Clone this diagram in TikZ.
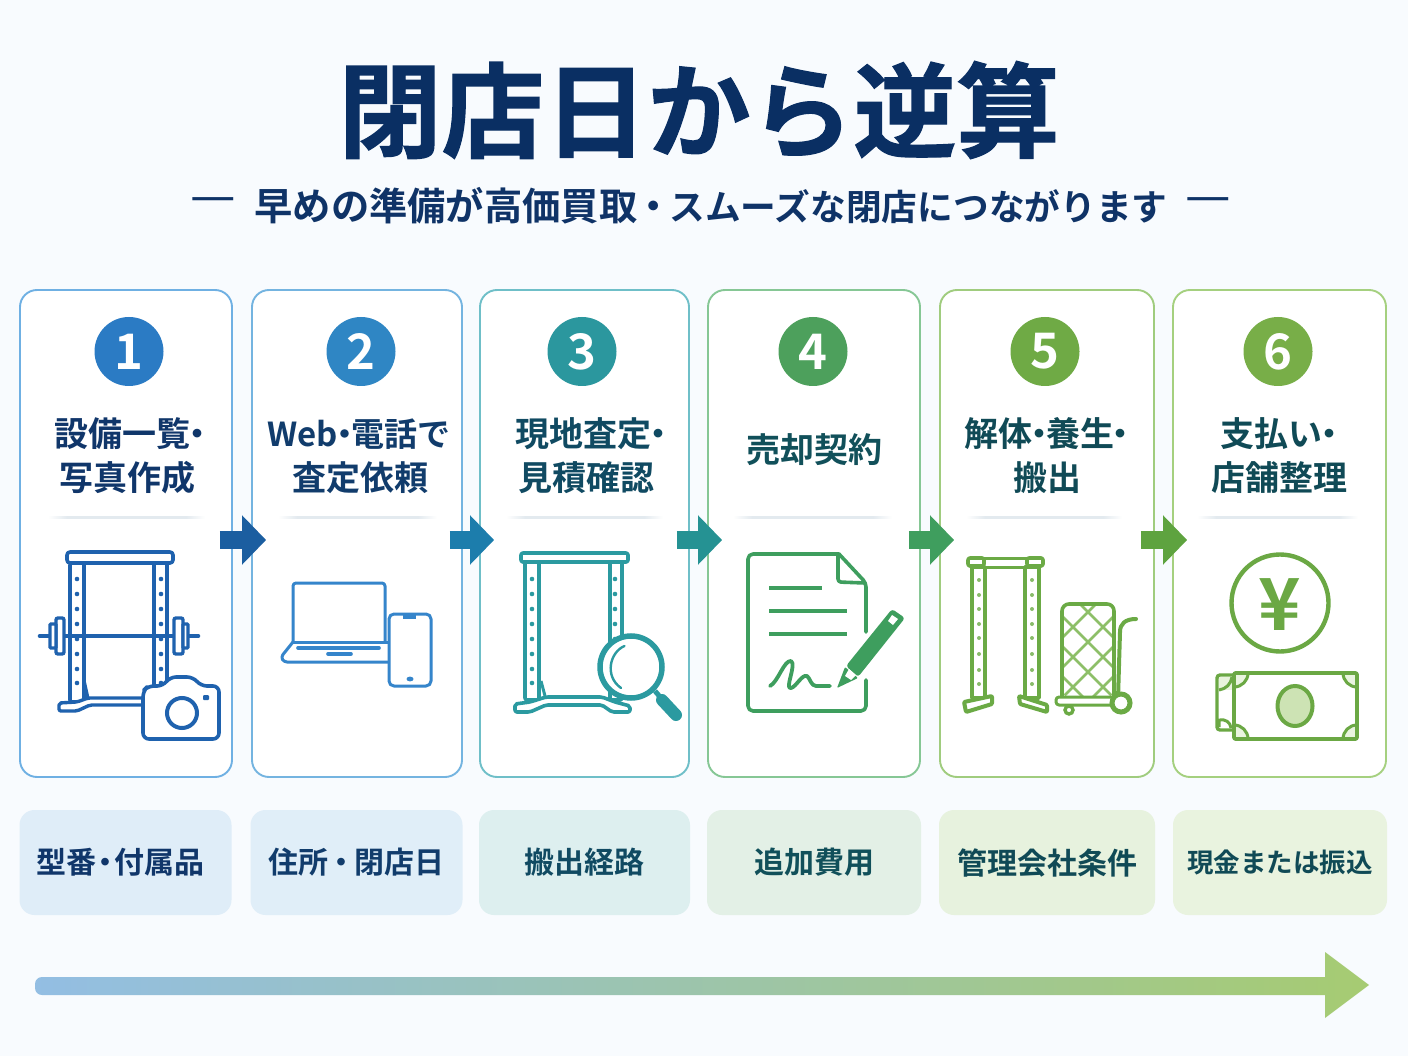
\documentclass[tikz,border=0pt]{standalone}
\usepackage{fontspec}
\usetikzlibrary{arrows.meta,calc}
\setmainfont{Noto Sans CJK JP}[BoldFont={* Bold},BoldFeatures={}]
\newfontfamily\jpheavy{Noto Sans CJK JP}[BoldFont={* Bold},BoldFeatures={FakeBold=1.2}]
\newcommand{\hexc}[1]{\definecolor{h#1}{HTML}{#1}}
\hexc{6FB0E3}\hexc{74B4E0}\hexc{6FBFC8}\hexc{86C795}\hexc{A0CC7E}\hexc{A5D07F}
\hexc{1B5EA0}\hexc{1C7DAC}\hexc{259293}\hexc{3F9E5E}\hexc{5EA33F}
\hexc{2B7BC4}\hexc{2F86C4}\hexc{2B979E}\hexc{4DA05C}\hexc{6FAA45}\hexc{78AE48}
\hexc{DFEDF8}\hexc{E0EEF8}\hexc{DDEFEF}\hexc{E3F0E6}\hexc{E7F2DE}\hexc{E9F3DF}
\hexc{93BEE3}\hexc{A6CB72}\hexc{E3EAEF}\hexc{8DBF68}\hexc{E8F3DC}\hexc{EAF4E0}\hexc{CDE3B4}
\definecolor{bgc}{HTML}{F8FBFE}
\definecolor{titlec}{HTML}{0A2F63}
\definecolor{subc}{HTML}{0F3367}
\definecolor{inkA}{HTML}{1F62AE}
\definecolor{inkB}{HTML}{3585CB}
\definecolor{inkC}{HTML}{2B9AA0}
\definecolor{inkD}{HTML}{3E9E5E}
\definecolor{inkE}{HTML}{6BAA45}
\definecolor{inkF}{HTML}{6BA844}
\definecolor{lblA}{HTML}{10366A}
\definecolor{lblB}{HTML}{113C6C}
\definecolor{lblC}{HTML}{104A62}
\definecolor{lblD}{HTML}{11505A}
\definecolor{lblE}{HTML}{104A56}
\definecolor{lblF}{HTML}{104A56}
\newcommand{\fs}[1]{\fontsize{#1}{#1}\selectfont}
\newcommand{\nd}{\hspace{-.3em}・\hspace{-.3em}}
\newcommand{\ndw}{\hspace{-.08em}・\hspace{-.08em}}
\newcommand{\ndm}{\hspace{-.2em}・\hspace{-.2em}}
\newcommand{\rackholes}[3]{\foreach \yy in {579,594,609,624,639,654,669,683}{\fill[#3] (#1,\yy) circle (2.3) (#2,\yy) circle (2.3);}}
\pgfdeclarehorizontalshading{dividerfade}{100bp}{color(0bp)=(white); color(25bp)=(white); color(31bp)=(hE3EAEF); color(69bp)=(hE3EAEF); color(75bp)=(white); color(100bp)=(white)}
\tikzset{
  card/.style={draw=#1,fill=white,line width=1.9pt,rounded corners=17pt,inner sep=0pt},
  badge/.style={circle,fill=#1,minimum size=69pt,inner sep=0pt,text=white,font=\bfseries\fs{49}},
  steplabel/.style={align=center,inner sep=0pt,font=\bfseries\fs{34},text=#1},
  pill/.style={fill=#1,rounded corners=15pt,inner sep=0pt,font=\bfseries\fs{30}},
  flow/.style={draw=#1,line width=18pt,-{Triangle[length=24pt,width=48pt]}},
  icon/.style={draw=#1,line width=3.6pt,line join=round,line cap=round},
  thin/.style={draw=#1,line width=3pt,line join=round,line cap=round},
}
\begin{document}
\begin{tikzpicture}[x=1pt,y=-1pt]
\fill[bgc] (0,0) rectangle (1408,1056);
\useasboundingbox (0,0) rectangle (1408,1056);

\node[inner sep=0pt,text=titlec,font=\jpheavy\bfseries\fs{103}] (title) at (699,110) {閉店日から逆算};
\node[inner sep=0pt,text=subc,font=\bfseries\fs{38.3}] (subtitle) at (711,206) {早めの準備が高価買取\ndw\fs{35.7}スムーズな閉店につながります};
\node[inner sep=0pt,text=subc,font=\fs{51}] (dashL) at (213,206) {—};
\node[inner sep=0pt,text=subc,font=\fs{51}] (dashR) at (1208,206) {—};

% cards
\node[card=h6FB0E3,minimum width=212pt,minimum height=487pt] (c1) at (126,533.5) {};
\node[card=h74B4E0,minimum width=210pt,minimum height=487pt] (c2) at (357,533.5) {};
\node[card=h6FBFC8,minimum width=209pt,minimum height=487pt] (c3) at (584.5,533.5) {};
\node[card=h86C795,minimum width=212pt,minimum height=487pt] (c4) at (814,533.5) {};
\node[card=hA0CC7E,minimum width=214pt,minimum height=487pt] (c5) at (1047,533.5) {};
\node[card=hA5D07F,minimum width=213pt,minimum height=487pt] (c6) at (1279.5,533.5) {};

% connectors
\draw[flow=h1B5EA0] ([xshift=-13pt,yshift=-6.5pt]c1.east) -- ([xshift=15pt,yshift=-6.5pt]c2.west);
\draw[flow=h1C7DAC] ([xshift=-13pt,yshift=-6.5pt]c2.east) -- ([xshift=15pt,yshift=-6.5pt]c3.west);
\draw[flow=h259293] ([xshift=-13pt,yshift=-6.5pt]c3.east) -- ([xshift=15pt,yshift=-6.5pt]c4.west);
\draw[flow=h3F9E5E] ([xshift=-12pt,yshift=-6.5pt]c4.east) -- ([xshift=15pt,yshift=-6.5pt]c5.west);
\draw[flow=h5EA33F] ([xshift=-14pt,yshift=-6.5pt]c5.east) -- ([xshift=15pt,yshift=-6.5pt]c6.west);

% badges
\node[badge=h2B7BC4] (b1) at (129,351.5) {1};
\node[badge=h2F86C4] (b2) at (361,351.5) {2};
\node[badge=h2B979E] (b3) at (582,351.5) {3};
\node[badge=h4DA05C] (b4) at (813,351.5) {4};
\node[badge=h6FAA45] (b5) at (1045,351.5) {5};
\node[badge=h78AE48] (b6) at (1278,351.5) {6};

% labels
\node[steplabel=lblA] (t1a) at (129,434) {設備一覧\nd};
\node[steplabel=lblA] (t1b) at (127,478) {写真作成};
\node[steplabel=lblB,font=\bfseries\fs{33}] (t2a) at (359,434) {Web\nd 電話で};
\node[steplabel=lblB] (t2b) at (360,478) {査定依頼};
\node[steplabel=lblC] (t3a) at (590,434) {現地査定\nd};
\node[steplabel=lblC] (t3b) at (586,478) {見積確認};
\node[steplabel=lblD] (t4a) at (814,450) {売却契約};
\node[steplabel=lblE] (t5a) at (1046,434) {解体\nd 養生\nd};
\node[steplabel=lblE] (t5b) at (1047,478) {搬出};
\node[steplabel=lblF] (t6a) at (1278,434) {支払い\nd};
\node[steplabel=lblF] (t6b) at (1279,478) {店舗整理};

% dividers
\foreach \a/\b in {48/205,278/437,506/663,733/892,966/1122,1197/1358}{
  \shade[shading=dividerfade] (\a,516) rectangle (\b,518);
}

% pills
\node[pill=hDFEDF8,minimum width=212pt,minimum height=105pt,text=lblA] (p1) at (125.5,862.5) {\hspace{-10pt}型番\ndm 付属品};
\node[pill=hE0EEF8,minimum width=212pt,minimum height=105pt,text=lblB] (p2) at (356.5,862.5) {住所\ndw 閉店日};
\node[pill=hDDEFEF,minimum width=211pt,minimum height=105pt,text=lblC] (p3) at (584.5,862.5) {搬出経路};
\node[pill=hE3F0E6,minimum width=214pt,minimum height=105pt,text=lblD] (p4) at (814,862.5) {追加費用};
\node[pill=hE7F2DE,minimum width=216pt,minimum height=105pt,text=lblE] (p5) at (1047,862.5) {管理会社条件};
\node[pill=hE9F3DF,minimum width=214pt,minimum height=105pt,text=lblF,font=\bfseries\fs{26.5}] (p6) at (1280,862.5) {現金または振込};

% timeline arrow
\shade[left color=h93BEE3,right color=hA6CB72,rounded corners=7pt]
  (200,977) [sharp corners] -- (1325,977) -- (1325,952) -- (1369,985) -- (1325,1018) -- (1325,995) -- (200,995)
  [rounded corners=7pt] -- (35,995) -- (35,977) -- cycle;

%%% icon 1: rack + camera
\draw[icon=inkA,rounded corners=2pt] (70,563) rectangle (84,702);
\draw[icon=inkA,rounded corners=2pt] (154,563) rectangle (167,690);
\draw[icon=inkA,fill=white,rounded corners=3pt] (67,552) rectangle (173,563);
\draw[icon=inkA] (85,563) -- (153,563);
\rackholes{77}{161}{inkA}
\draw[inkA,line width=4.6pt,line cap=round] (40,636) -- (198,636);
\draw[inkA,line width=3.4pt,fill=white,rounded corners=2pt] (56,618) rectangle (64,654);
\draw[inkA,line width=3.4pt,fill=white,rounded corners=1pt] (50,624) rectangle (56,648);
\draw[inkA,line width=3.4pt,fill=white,rounded corners=2pt] (174,618) rectangle (183,654);
\draw[inkA,line width=3.4pt,fill=white,rounded corners=1pt] (183,624) rectangle (188,648);
\draw[icon=inkA,line width=3.4pt,fill=white,rounded corners=2pt] (59,703) -- (77,702) -- (88,698) -- (146,698) -- (146,705) -- (90,705) -- (77,711) -- (59,711) -- cycle;
\draw[inkA,line width=3pt] (84,680) -- (88,698);
\draw[icon=inkA,fill=white,rounded corners=6pt] (143,691) -- (143,739) -- (219,739) -- (219,686) -- (201,686) -- (193,677) -- (170,677) -- (163,686) -- (148,686) -- cycle;
\draw[inkA,line width=4pt] (182,713) circle (15);
\fill[inkA,rounded corners=1pt] (203,695) rectangle (209,700);

%%% icon 2: laptop + phone
\draw[thin=inkB,rounded corners=3pt] (293,642) -- (293,583) -- (385,583) -- (385,642);
\draw[thin=inkB,rounded corners=3pt] (293,642) -- (281,657) -- (284,662) -- (388,662);
\draw[thin=inkB] (293,642) -- (388,642);
\draw[inkB,line width=3.6pt,line cap=round] (298,648) -- (379,648);
\draw[inkB,line width=3.6pt,line cap=round] (328,654) -- (351,654);
\draw[thin=inkB,fill=white,rounded corners=5pt] (389,614) rectangle (431,686);
\draw[inkB,line width=3.6pt] (403,617) -- (416,617);
\fill[inkB] (410,679) ellipse (3.5 and 2.4);

%%% icon 3: rack + magnifier
\draw[icon=inkC,rounded corners=2pt] (525,562) rectangle (539,700);
\draw[icon=inkC,rounded corners=2pt] (610,562) rectangle (622,700);
\draw[icon=inkC,fill=white,rounded corners=2pt] (521,553) rectangle (628,562);
\draw[icon=inkC] (540,562) -- (609,562);
\rackholes{532}{615}{inkC}
\draw[icon=inkC,fill=white,rounded corners=2pt] (515,704) -- (530,702) -- (546,697) -- (602,697) -- (615,702) -- (630,706) -- (630,712) -- (612,712) -- (602,705) -- (546,705) -- (530,712) -- (515,712) -- cycle;
\draw[inkC,line width=3pt] (541,681) -- (545,696);
\draw[inkC,line width=5.5pt,fill=white] (631,667) circle (31);
\draw[inkC,line width=2.4pt,line cap=round] (624.5,646) .. controls (610,652) and (604,676) .. (621,688);
\draw[inkC,line width=5pt] (655,691) -- (661,698);
\draw[inkC,line width=12pt,line cap=round] (662,700) -- (676,715);

%%% icon 4: contract + pen
\draw[icon=inkD,rounded corners=4pt] (866,632) -- (866,583) [sharp corners] -- (839,554) [rounded corners=5pt] -- (748,554) -- (748,711) -- (866,711) -- (866,680);
\draw[icon=inkD,rounded corners=3pt] (838,555) -- (838,582) -- (865,583);
\draw[inkD,line width=4pt] (769,588) -- (822,588);
\draw[inkD,line width=4pt] (769,611) -- (847,611);
\draw[inkD,line width=4pt] (769,634) -- (847,634);
\draw[inkD,line width=3.8pt,line cap=round,line join=round] (770,686) .. controls (778,682) and (784,660) .. (791,661) .. controls (797,664) and (784,690) .. (791,688) .. controls (796,687) and (802,674) .. (807,676) .. controls (810,678) and (811,686) .. (816,686) -- (830,686);
\fill[inkD,rounded corners=1pt] (837,688) -- (845,667) -- (858,678) -- cycle;
\fill[inkD,rounded corners=3pt] (846,666) -- (892,609) -- (905,618) -- (858,677) -- cycle;
\fill[white] (849,669) -- (856,675) -- (851,680) -- (845,676) -- cycle;
\fill[white] (892,615) -- (898,619) -- (893,625) -- (888,621) -- cycle;

%%% icon 5: rack + cart
\draw[icon=inkE] (972,567) rectangle (985,698);
\draw[icon=inkE] (1025,567) rectangle (1039,698);
\draw[icon=inkE,fill=white,rounded corners=2pt] (968,558) rectangle (984,566);
\draw[icon=inkE,fill=white,rounded corners=2pt] (1027,558) rectangle (1043,566);
\draw[icon=inkE,line width=3pt] (984,558) -- (1027,558);
\draw[icon=inkE,line width=3pt] (984,567) -- (1027,567);
\foreach \yy in {580,595,609,624,638,654,670,684}{\fill[inkE!80] (979,\yy) circle (2) (1032,\yy) circle (2);}
\draw[icon=inkE,line width=4pt,fill=white,rounded corners=1pt] (964,702) -- (992,696) -- (992,704) -- (966,712) -- cycle;
\draw[icon=inkE,line width=4pt,fill=white,rounded corners=1pt] (1019,696) -- (1047,705) -- (1047,712) -- (1020,704) -- cycle;
\begin{scope}
\clip[rounded corners=7pt] (1062,604) rectangle (1114,697);
\foreach \k in {-2,...,3}{
  \draw[h8DBF68,line width=2.8pt] (1040,{564+\k*30}) -- (1140,{664+\k*30});
  \draw[h8DBF68,line width=2.8pt] (1040,{660+\k*30}) -- (1140,{560+\k*30});
}
\end{scope}
\draw[icon=inkE,rounded corners=7pt] (1062,697) -- (1062,604) -- (1114,604) -- (1114,697);
\draw[icon=inkE,line width=4pt] (1118,699) -- (1120,632) .. controls (1120,624) and (1125,619) .. (1136,619);
\draw[icon=inkE,line width=3pt,fill=white,rounded corners=3pt] (1056,697) rectangle (1118,705);
\draw[inkE,line width=5pt,fill=white] (1121,703) circle (9);
\draw[inkE,line width=3.4pt,fill=white] (1069,710) circle (4);

%%% icon 6: coin + notes
\draw[inkF,line width=4.4pt] (1280,603) circle (48.5);
\node[inner sep=0pt,text=inkF,font=\bfseries\fs{72}] (yen) at (1280,605) {¥};
\draw[inkF,line width=3.4pt,rounded corners=3pt] (1234,675) -- (1217,675) -- (1217,730) -- (1234,730);
\fill[hE8F3DC] (1219,677) rectangle (1232,690);
\draw[inkF,line width=3pt] (1219,690) .. controls (1226,689) and (1231,684) .. (1232,677);
\draw[inkF,line width=3pt] (1219,727) -- (1219,720) .. controls (1226,719) and (1230,722) .. (1231,728);
\draw[inkF,line width=3.6pt,fill=white,rounded corners=2pt] (1234,673) rectangle (1357,739);
\begin{scope}
\clip (1234,673) rectangle (1357,739);
\foreach \cx/\cy in {1234/673,1357/673,1234/739,1357/739}{
  \draw[inkF,line width=3pt,fill=hEAF4E0] (\cx,\cy) circle (14);
}
\end{scope}
\draw[inkF,line width=3.6pt,rounded corners=2pt] (1234,673) rectangle (1357,739);
\draw[inkF,line width=4pt,fill=hCDE3B4] (1295,706) ellipse (17.5 and 20);
\end{tikzpicture}
\end{document}
